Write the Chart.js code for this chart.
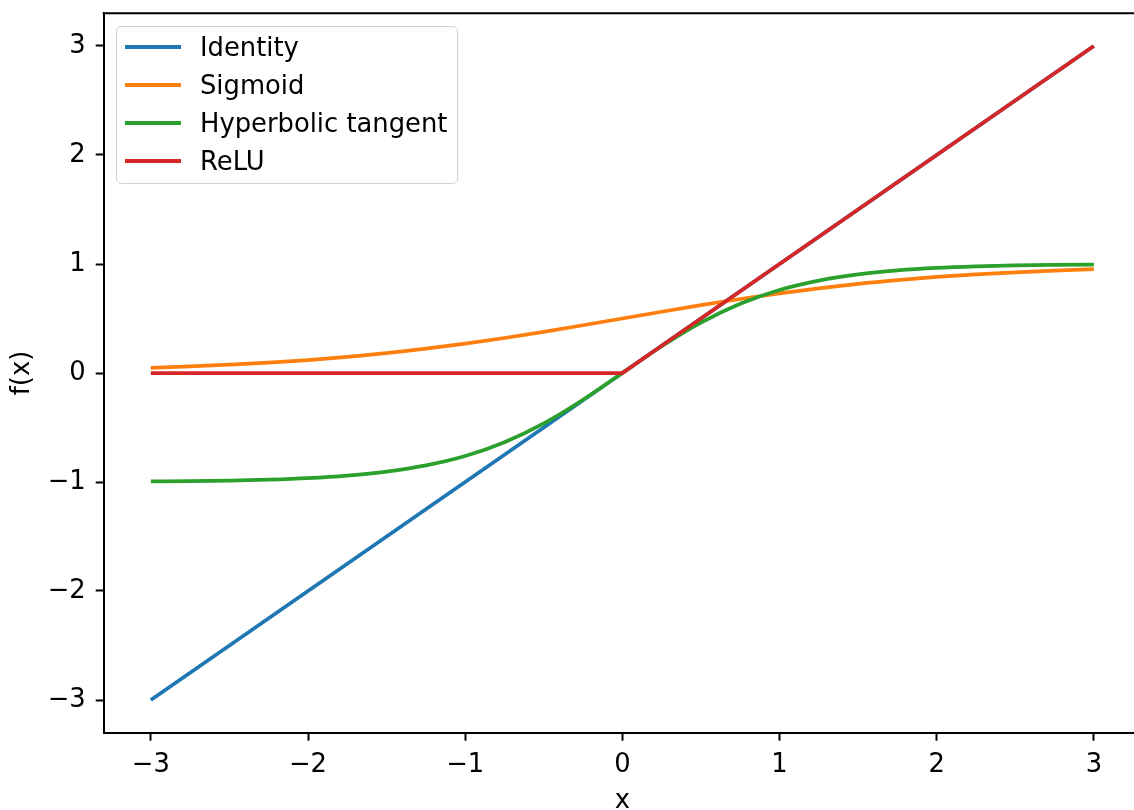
<!DOCTYPE html>
<html>
<head>
<meta charset="utf-8">
<script src="https://cdn.jsdelivr.net/npm/chart.js@4/dist/chart.umd.min.js"></script>
<style>
    html, body { margin: 0; padding: 0; background: #fff; overflow: hidden; }
    #wrap { position: relative; width: 1134px; height: 810px; overflow: hidden; }
    #chart { position: absolute; left: 0; top: 0; }
    #legend {
        position: absolute; left: 116px; top: 26px; width: 340px; height: 156px;
        border: 1.5px solid #d0d0d0; border-radius: 5px; background: rgba(255,255,255,0.8);
        font-family: "DejaVu Sans", sans-serif; font-size: 25.8px; color: #000;
    }
    .swatch { position: absolute; left: 8px; width: 56px; height: 4px; }
    .label { position: absolute; left: 83px; height: 38px; line-height: 38px; white-space: nowrap; }
</style>
</head>
<body>
<div id="wrap">
    <canvas id="chart" width="1142" height="810"></canvas>
    <div id="legend"></div>
</div>
<script>
// Values
const xValues = [-3, -2.75, -2.5, -2.25, -2, -1.75, -1.5, -1.25, -1, -0.75, -0.5, -0.25,
    0, 0.25, 0.5, 0.75, 1, 1.25, 1.5, 1.75, 2, 2.25, 2.5, 2.75, 3];

const identityValues = [-3, -2.75, -2.5, -2.25, -2, -1.75, -1.5, -1.25, -1, -0.75, -0.5, -0.25,
    0, 0.25, 0.5, 0.75, 1, 1.25, 1.5, 1.75, 2, 2.25, 2.5, 2.75, 3];

const sigmoidValues = [0.047, 0.060, 0.076, 0.095, 0.119, 0.148, 0.182, 0.223, 0.269, 0.321, 0.378, 0.438,
    0.5, 0.562, 0.622, 0.679, 0.731, 0.777, 0.818, 0.852, 0.881, 0.905, 0.924, 0.940, 0.953];

const tanhValues = [-0.995, -0.992, -0.987, -0.978, -0.964, -0.941, -0.905, -0.848, -0.762, -0.635, -0.462, -0.245,
    0, 0.245, 0.462, 0.635, 0.762, 0.848, 0.905, 0.941, 0.964, 0.978, 0.987, 0.992, 0.995];

const reluValues = [0, 0, 0, 0, 0, 0, 0, 0, 0, 0, 0, 0,
    0, 0.25, 0.5, 0.75, 1, 1.25, 1.5, 1.75, 2, 2.25, 2.5, 2.75, 3];

const xTicks = [-3, -2, -1, 0, 1, 2, 3];
const yTicks = [-3, -2, -1, 0, 1, 2, 3];

const seriesNames = ["Identity", "Sigmoid", "Hyperbolic tangent", "ReLU"];
const seriesColors = ["#1f77b4", "#ff7f0e", "#2ca02c", "#d62728"];

const FONT = "DejaVu Sans";
const FONT_SIZE = 25.8;

function toPoints(ys) {
    return xValues.map((x, i) => ({ x: x, y: ys[i] }));
}

function fmtTick(v) {
    return v < 0 ? "\u2212" + Math.abs(v) : String(v);
}

// draws the top spine (Chart.js only draws the axis-side border)
const topSpine = {
    id: "topSpine",
    afterDraw(chart) {
        const { ctx, chartArea } = chart;
        ctx.save();
        ctx.strokeStyle = "#000";
        ctx.lineWidth = 2;
        ctx.beginPath();
        ctx.moveTo(chartArea.left - 1, chartArea.top);
        ctx.lineTo(chartArea.right + 1, chartArea.top);
        ctx.stroke();
        ctx.restore();
    }
};

const allSeries = [identityValues, sigmoidValues, tanhValues, reluValues];
const smooth = [false, true, true, false];

const datasets = allSeries.map((ys, i) => ({
    label: seriesNames[i],
    data: toPoints(ys),
    borderColor: seriesColors[i],
    backgroundColor: seriesColors[i],
    borderWidth: 3.75,
    pointRadius: 0,
    fill: false,
    tension: 0,
    cubicInterpolationMode: smooth[i] ? "monotone" : "default",
    order: 4 - i
}));

const axisCommon = {
    type: "linear",
    min: -3.3,
    max: 3.3,
    grid: {
        drawOnChartArea: false,
        drawTicks: true,
        tickLength: 8,
        tickWidth: 2,
        color: "#000"
    },
    border: { display: true, color: "#000", width: 2 }
};

new Chart(document.getElementById("chart"), {
    type: "line",
    data: { datasets: datasets },
    plugins: [topSpine],
    options: {
        responsive: false,
        animation: false,
        devicePixelRatio: 1,
        layout: { padding: { left: 0, top: 13.3, right: 1, bottom: 0 } },
        plugins: {
            legend: { display: false },
            tooltip: { enabled: false }
        },
        scales: {
            x: {
                ...axisCommon,
                position: "bottom",
                ticks: {
                    color: "#000", padding: 9, maxRotation: 0,
                    font: { family: FONT, size: FONT_SIZE },
                    callback: fmtTick
                },
                title: {
                    display: true, text: "x", color: "#000",
                    font: { family: FONT, size: FONT_SIZE, lineHeight: 1 },
                    padding: { top: 0, bottom: -4 }
                },
                afterBuildTicks: (scale) => { scale.ticks = xTicks.map(v => ({ value: v })); },
                afterFit: (scale) => {
                    scale.height = 77.3;
                    scale.paddingLeft = 0;
                    scale.paddingRight = 0;
                }
            },
            y: {
                ...axisCommon,
                position: "left",
                ticks: {
                    color: "#000", padding: 10,
                    font: { family: FONT, size: FONT_SIZE },
                    callback: fmtTick
                },
                title: {
                    display: true, text: "f(x)", color: "#000",
                    font: { family: FONT, size: FONT_SIZE, lineHeight: 1 },
                    padding: { top: 9.5, bottom: 0 }
                },
                afterBuildTicks: (scale) => { scale.ticks = yTicks.map(v => ({ value: v })); },
                afterFit: (scale) => {
                    scale.width = 103.7;
                    scale.paddingTop = 0;
                    scale.paddingBottom = 0;
                }
            }
        }
    }
});

// legend inside the plot, upper left (row centres relative to the box)
const legendEl = document.getElementById("legend");
const rowStart = 19.7;
const rowGap = 38.2;
seriesNames.forEach((name, i) => {
    const cy = rowStart + i * rowGap;
    const sw = document.createElement("div");
    sw.className = "swatch";
    sw.style.top = Math.round(cy - 2) + "px";
    sw.style.background = seriesColors[i];
    const lb = document.createElement("span");
    lb.className = "label";
    lb.style.top = Math.round(cy - 19) + "px";
    lb.textContent = name;
    legendEl.appendChild(sw);
    legendEl.appendChild(lb);
});
</script>
</body>
</html>
